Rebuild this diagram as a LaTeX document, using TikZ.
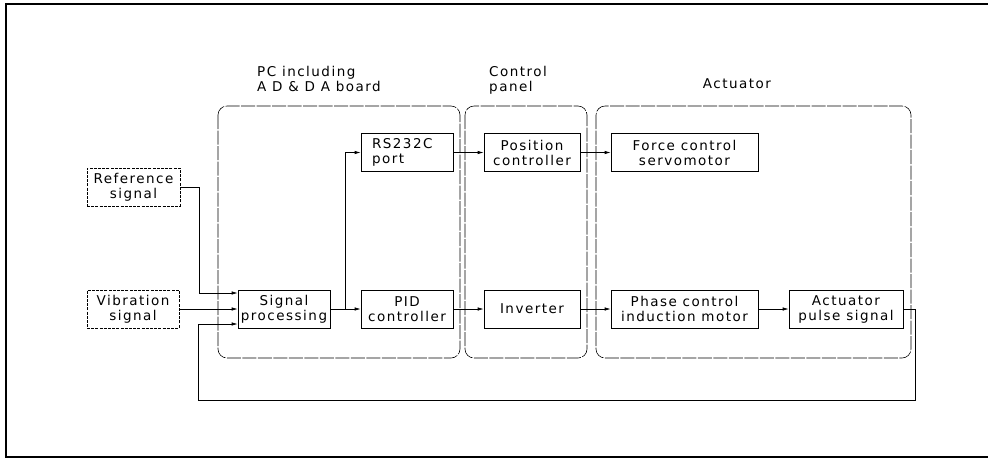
\documentclass[tikz,border=0pt]{standalone}
\usepackage{fontspec}
\usepackage{tikz}
\usetikzlibrary{arrows.meta}
\newfontfamily\plotfont{DejaVu Sans}[LetterSpace=11]
\newcommand\pf{\plotfont\fontsize{13.5pt}{15pt}\selectfont}
\tikzset{
  ar/.style={-{Latex[length=6pt,width=3.5pt]},line width=0.7pt},
  blk/.style={draw,line width=0.7pt,minimum height=38pt,align=center,inner sep=1pt,font=\pf},
  src/.style={blk,dash pattern=on 3pt off 1.2pt},
  grp/.style={draw,rounded corners=9pt,line width=0.6pt,dash pattern=on 14pt off 1.5pt},
  lbl/.style={font=\pf,align=left,inner sep=0pt}
}

\begin{document}
\begin{tikzpicture}[x=1pt,y=-1pt]
\useasboundingbox (0,0) rectangle (988,459);
\draw[line width=1.2pt] (988,4) -- (6,4) -- (6,457) -- (988,457);
\draw[grp] (218,106) rectangle (460,358);
\draw[grp] (465,106) rectangle (587,358);
\draw[grp] (596,106) rectangle (911,358);
\node[lbl,anchor=north west] (pclbl) at (257,66) {PC including\\A D \& D A board};
\node[lbl,anchor=north west] (cplbl) at (489,66) {Control\\panel};
\node[lbl,anchor=base] (aclbl) at (737,88) {Actuator};
\node[src,minimum width=93pt] (ref) at (133.5,187) {Reference\\signal};
\node[src,minimum width=92pt] (vib) at (133,309) {Vibration\\signal};
\node[blk,minimum width=92pt] (sp) at (284,309) {Signal\\processing};
\node[blk,minimum width=92pt] (pid) at (407,309) {PID\\controller};
\node[blk,minimum width=92pt,align=left,text width=70pt,inner xsep=11pt] (rs) at (407,152.5) {RS232C\\port};
\node[blk,minimum width=96pt] (pos) at (532,152.5) {Position\\controller};
\node[blk,minimum width=96pt] (inv) at (532,309) {Inverter};
\node[blk,minimum width=147pt] (force) at (684.5,152.5) {Force control\\servomotor};
\node[blk,minimum width=147pt] (phase) at (684.5,309) {Phase control\\induction motor};
\node[blk,minimum width=114pt] (pulse) at (846,309) {Actuator\\pulse signal};
\coordinate (br) at (345,309);
\coordinate (fb) at (198,400);
\draw[ar] (ref.east) -- ++(19,0) |- ([yshift=16pt]sp.west);
\draw[ar] (vib.east) -- (sp.west);
\draw[ar] (pulse.east) -- ++(12,0) |- (fb) |- ([yshift=-15pt]sp.west);
\draw (sp.east) -- (br);
\draw[ar] (br) -- (pid.west);
\draw[ar] (br) |- (rs.west);
\draw[ar] (rs.east) -- (pos.west);
\draw[ar] (pid.east) -- (inv.west);
\draw[ar] (pos.east) -- (force.west);
\draw[ar] (inv.east) -- (phase.west);
\draw[ar] (phase.east) -- (pulse.west);
\end{tikzpicture}
\end{document}
